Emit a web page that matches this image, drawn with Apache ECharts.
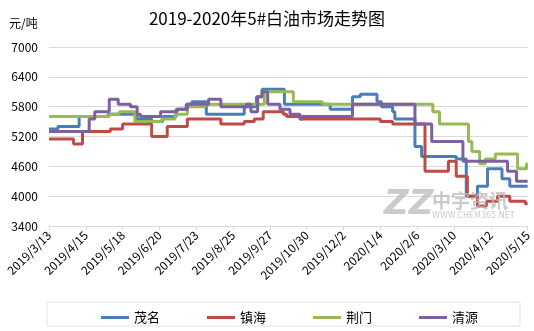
<!DOCTYPE html>
<html>
<head>
<meta charset="utf-8">
<script src="https://cdn.jsdelivr.net/npm/echarts@6/dist/echarts.min.js"></script>
<style>
  html, body { margin: 0; padding: 0; background: #fff; }
  #chart { width: 534px; height: 331px; }
</style>
</head>
<body>
<div id="chart"></div>
<script>
// Start date of the series; x values are days counted from it
const startDate = '2019/3/13';
const dayStep = 33;
const totalDays = 429;

// Price change points: [date, price in 元/吨]
const maoming = [
  ['2019/3/13', 5350], ['2019/3/21', 5400], ['2019/4/9', 5600], ['2019/5/5', 5650],
  ['2019/5/31', 5550], ['2019/6/13', 5500], ['2019/6/23', 5600], ['2019/7/5', 5750],
  ['2019/7/14', 5850], ['2019/7/19', 5900], ['2019/8/1', 5650], ['2019/9/4', 5800],
  ['2019/9/15', 6000], ['2019/9/20', 6150], ['2019/10/10', 5850], ['2019/11/20', 5750],
  ['2019/12/10', 6000], ['2019/12/17', 6050], ['2020/1/1', 5900], ['2020/1/5', 5800],
  ['2020/1/15', 5700], ['2020/1/17', 5550], ['2020/2/4', 5000], ['2020/2/10', 4800],
  ['2020/3/12', 4750], ['2020/3/21', 4000], ['2020/3/31', 4200], ['2020/4/9', 4550],
  ['2020/4/22', 4350], ['2020/4/29', 4200], ['2020/5/15', 4200]
];
const zhenhai = [
  ['2019/3/13', 5150], ['2019/4/4', 5050], ['2019/4/12', 5300], ['2019/5/7', 5350],
  ['2019/5/18', 5450], ['2019/6/13', 5200], ['2019/6/27', 5400], ['2019/7/15', 5550],
  ['2019/8/14', 5450], ['2019/9/4', 5500], ['2019/9/13', 5550], ['2019/9/21', 5700],
  ['2019/10/9', 5650], ['2019/10/12', 5600], ['2019/10/24', 5550], ['2020/1/4', 5500],
  ['2020/1/15', 5450], ['2020/2/13', 4500], ['2020/3/5', 4700], ['2020/3/12', 4400],
  ['2020/3/22', 4000], ['2020/3/31', 3800], ['2020/4/8', 3900], ['2020/4/18', 4000],
  ['2020/4/29', 3900], ['2020/5/13', 3850], ['2020/5/15', 3850]
];
const jingmen = [
  ['2019/3/13', 5600], ['2019/5/6', 5650], ['2019/5/15', 5700], ['2019/5/29', 5500],
  ['2019/6/22', 5550], ['2019/7/4', 5650], ['2019/7/15', 5800], ['2019/7/31', 5850],
  ['2019/9/22', 6100], ['2019/10/18', 5900], ['2019/11/13', 5850], ['2020/2/20', 5700],
  ['2020/2/26', 5450], ['2020/3/23', 5100], ['2020/3/26', 4900], ['2020/4/2', 4650],
  ['2020/4/7', 4750], ['2020/4/16', 4850], ['2020/5/6', 4550], ['2020/5/14', 4650],
  ['2020/5/15', 4650]
];
const qingyuan = [
  ['2019/3/13', 5300], ['2019/4/18', 5550], ['2019/4/23', 5700], ['2019/5/6', 5950],
  ['2019/5/14', 5850], ['2019/5/25', 5800], ['2019/5/31', 5650], ['2019/6/3', 5600],
  ['2019/6/21', 5700], ['2019/7/6', 5750], ['2019/7/15', 5850], ['2019/8/3', 5950],
  ['2019/8/14', 5800], ['2019/9/6', 5850], ['2019/9/10', 5700], ['2019/9/16', 6000],
  ['2019/9/20', 6100], ['2019/9/25', 5850], ['2019/10/6', 5750], ['2019/10/15', 5650],
  ['2019/10/24', 5550], ['2019/10/26', 5600], ['2019/12/10', 5850], ['2020/2/4', 5450],
  ['2020/2/19', 5100], ['2020/3/18', 4700], ['2020/4/27', 4500], ['2020/5/5', 4300],
  ['2020/5/15', 4300]
];

const seriesNames = ['茂名', '镇海', '荆门', '清源'];
const seriesColors = ['#4a7ebb', '#be4b48', '#98b954', '#7d60a0'];
const yTicks = { min: 3400, max: 7000, step: 600 };

const DAY = 86400000;
function parseDate(s) {
  const [y, m, d] = s.split('/').map(Number);
  return Date.UTC(y, m - 1, d);
}
const t0 = parseDate(startDate);
function toDay(s) { return Math.round((parseDate(s) - t0) / DAY); }
function dayLabel(n) {
  const dt = new Date(t0 + n * DAY);
  return dt.getUTCFullYear() + '/' + (dt.getUTCMonth() + 1) + '/' + dt.getUTCDate();
}

const font = '"Noto Sans CJK SC", "Noto Sans", sans-serif';
const markColor = 'rgba(185,185,185,0.75)';
const chart = echarts.init(document.getElementById('chart'), null, { renderer: 'canvas' });

const raw = [maoming, zhenhai, jingmen, qingyuan];
chart.setOption({
  animation: false,
  backgroundColor: '#fff',
  textStyle: { fontFamily: font },
  title: {
    text: '2019-2020年5#白油市场走势图',
    left: 'center',
    top: 5,
    textStyle: { fontSize: 17, fontWeight: 'normal', color: '#000', fontFamily: font }
  },
  grid: { left: 49, right: 6, top: 47, bottom: 105, containLabel: false },
  legend: {
    data: seriesNames,
    left: 96,
    top: 306,
    itemWidth: 28,
    itemHeight: 3,
    itemGap: 47,
    icon: 'rect',
    textStyle: { fontSize: 13, color: '#000', fontFamily: font }
  },
  xAxis: {
    type: 'value',
    min: 0,
    max: totalDays,
    interval: dayStep,
    axisLine: { show: true, lineStyle: { color: '#d9d9d9', width: 1 } },
    axisTick: { show: true, length: 4, lineStyle: { color: '#d9d9d9' } },
    splitLine: { show: false },
    axisLabel: {
      rotate: 45,
      margin: 7,
      fontSize: 12,
      color: '#000',
      fontFamily: font,
      formatter: v => dayLabel(v)
    }
  },
  yAxis: {
    type: 'value',
    min: yTicks.min,
    max: yTicks.max,
    interval: yTicks.step,
    axisLine: { show: false },
    axisTick: { show: false },
    splitLine: { lineStyle: { color: '#d9d9d9', width: 1 } },
    axisLabel: { fontSize: 12, color: '#000', margin: 11, fontFamily: font, formatter: v => String(v) }
  },
  graphic: [
    { type: 'text', left: 9, top: 17, style: { text: '元/吨', fontSize: 12, fill: '#000', fontFamily: font } },
    { type: 'rect', shape: { x: 47, y: 302, width: 473, height: 24 }, style: { fill: 'none', stroke: '#e3e3e3', lineWidth: 1 }, z: -1 },
    { type: 'text', left: 384, top: 188, z: 100, style: { text: 'ZZ', fontSize: 34, fontWeight: 'bold', fontStyle: 'italic', fill: markColor, fontFamily: 'DejaVu Sans' } },
    { type: 'text', left: 432, top: 191, z: 100, style: { text: '中宇资讯', fontSize: 19, fontWeight: 'bold', fill: markColor, fontFamily: font } },
    { type: 'text', left: 432, top: 212, z: 100, style: { text: 'WWW.CHEM365.NET', fontSize: 8, fill: markColor, fontFamily: 'DejaVu Sans' } }
  ],
  series: raw.map((arr, i) => ({
    name: seriesNames[i],
    type: 'line',
    step: 'end',
    showSymbol: false,
    symbol: 'none',
    lineStyle: { width: 3, color: seriesColors[i] },
    itemStyle: { color: seriesColors[i] },
    data: arr.map(p => [toDay(p[0]), p[1]])
  }))
});
</script>
</body>
</html>
